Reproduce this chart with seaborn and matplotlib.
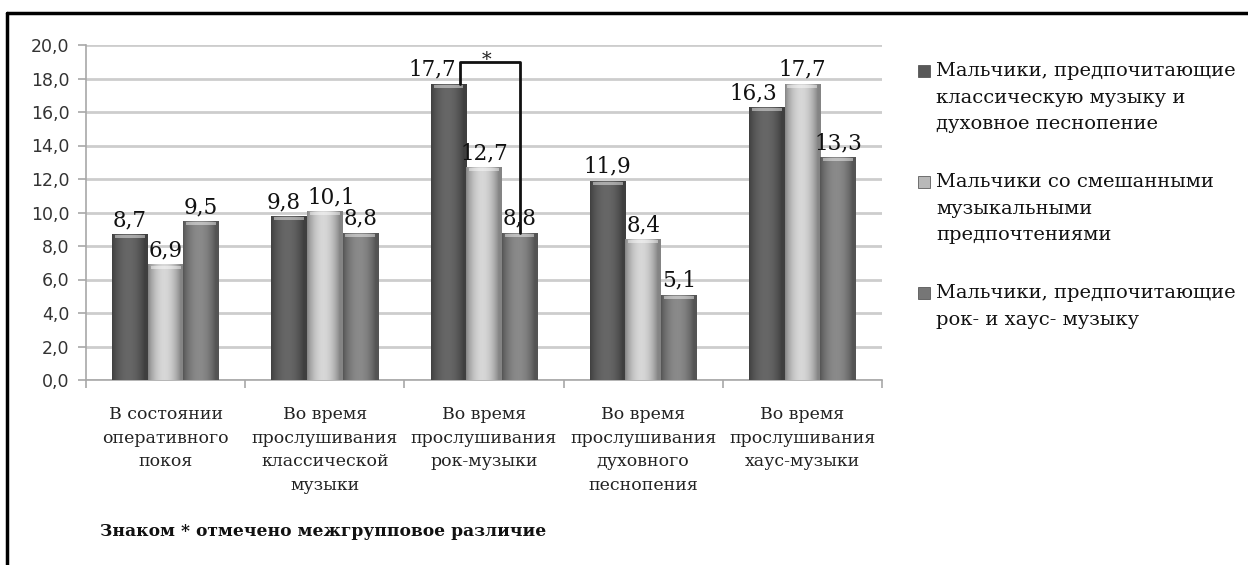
import numpy as np
import pandas as pd
import matplotlib
matplotlib.use("Agg")
import matplotlib.pyplot as plt
import seaborn as sns
from matplotlib.lines import Line2D
from matplotlib.patches import Rectangle
from matplotlib.ticker import FixedLocator, FuncFormatter

categories = [
    "В состоянии\nоперативного\nпокоя",
    "Во время\nпрослушивания\nклассической\nмузыки",
    "Во время\nпрослушивания\nрок-музыки",
    "Во время\nпрослушивания\nдуховного\nпеснопения",
    "Во время\nпрослушивания\nхаус-музыки",
]
series_names = [
    "Мальчики, предпочитающие\nклассическую музыку и\nдуховное песнопение",
    "Мальчики со смешанными\nмузыкальными\nпредпочтениями",
    "Мальчики, предпочитающие\nрок- и хаус- музыку",
]
classic_values = [8.7, 9.8, 17.7, 11.9, 16.3]
mixed_values = [6.9, 10.1, 12.7, 8.4, 17.7]
rock_values = [9.5, 8.8, 8.8, 5.1, 13.3]
footnote = "Знаком * отмечено межгрупповое различие"

colors = ["#585858", "#b8b8b8", "#767676"]

df = pd.DataFrame({
    "cat": categories * 3,
    "group": sum([[s] * 5 for s in series_names], []),
    "value": classic_values + mixed_values + rock_values,
})

sns.set_theme(style="white")
plt.rcParams["font.family"] = ["DejaVu Serif"]

W, H = 1248, 565
fig = plt.figure(figsize=(W / 100, H / 100), dpi=100)
ax = fig.add_axes([86 / W, 1 - 380 / H, (882 - 86) / W, (380 - 45) / H])

sns.barplot(data=df, x="cat", y="value", hue="group", order=categories,
            hue_order=series_names, palette=colors, width=0.67,
            saturation=1, legend=False, ax=ax, zorder=3, edgecolor="none")

ax.set_ylim(0, 20)
ax.set_xlim(-0.5, len(categories) - 0.5)

# cylinder-like shading on bars
prof = np.linspace(0, 1, 64)
shade = 0.72 + 0.45 * np.sin(np.pi * np.clip(prof * 1.1, 0, 1)) ** 0.8
for ci, cont in enumerate(ax.containers):
    base = np.array(matplotlib.colors.to_rgb(colors[ci]))
    for bar in cont:
        x0, w, h = bar.get_x(), bar.get_width(), bar.get_height()
        img = np.clip(base[None, None, :] * shade[None, :, None], 0, 1)
        im = ax.imshow(img, extent=[x0, x0 + w, 0, h], aspect="auto",
                       zorder=4, interpolation="bilinear")
        im.set_clip_path(bar)
        cap = Rectangle((x0 + w * 0.08, h - 0.25), w * 0.84, 0.18,
                        color="white", alpha=0.45, zorder=5, lw=0)
        ax.add_patch(cap)
ax.set_xlim(-0.5, len(categories) - 0.5)
ax.set_ylim(0, 20)

# value labels
label_texts = []
for cont in ax.containers:
    labels = [f"{b.get_height():.1f}".replace(".", ",") for b in cont]
    label_texts.append(ax.bar_label(cont, labels=labels, padding=2, fontsize=15.5,
                                    color="#111111", family="DejaVu Serif", zorder=6))
# nudge a few labels sideways, as in the original, to keep them apart
nudges = {(0, 1): -4, (1, 1): 5, (0, 2): -12, (0, 4): -10}
for (s, c), dx in nudges.items():
    t = label_texts[s][c]
    ox, oy = t.xyann
    t.xyann = (ox + dx, oy)

# grid and axes
ax.yaxis.set_major_locator(FixedLocator(np.arange(0, 21, 2)))
ax.yaxis.set_major_formatter(FuncFormatter(lambda v, p: f"{v:.1f}".replace(".", ",")))
ax.grid(axis="y", color="#cdcdcd", lw=2, zorder=0)
ax.grid(axis="x", visible=False)
for side in ["top", "right"]:
    ax.spines[side].set_visible(False)
for side in ["left", "bottom"]:
    ax.spines[side].set_color("#a8a8a8")
    ax.spines[side].set_linewidth(1.2)
ax.tick_params(axis="y", length=6, color="#a8a8a8", width=1.2, labelsize=12.5,
               labelcolor="#333333", pad=6, left=True)
for t in ax.get_yticklabels():
    t.set_family("DejaVu Sans")
ax.set_xticks(range(len(categories)))
ax.set_xticklabels(categories, fontsize=12.5, linespacing=1.5, color="#222222")
ax.set_xticks(np.arange(-0.5, len(categories), 1), minor=True)
ax.tick_params(axis="x", which="major", length=0, pad=19)
ax.tick_params(axis="x", which="minor", length=6, color="#a8a8a8", width=1.2,
               bottom=True, direction="out")
ax.set_xlabel("")
ax.set_ylabel("")

# significance bracket between group 1 and group 3 in the rock category
b1 = ax.containers[0][2]
b3 = ax.containers[2][2]
xl = b1.get_x() + b1.get_width() * 0.82
xr = b3.get_x() + b3.get_width() * 0.5
ytop = 19.0
ax.plot([xl, xl, xr, xr], [b1.get_height(), ytop, ytop, b3.get_height()],
        color="#111111", lw=2, zorder=7, clip_on=False)
ax.text((xl + xr) / 2 - 0.02, ytop - 0.45, "*", ha="center", va="bottom",
        fontsize=14, color="#222222", zorder=7)

# legend (manual, with top-aligned markers)
ly = [71, 182, 293]
for i, name in enumerate(series_names):
    yc = ly[i]
    sq = Rectangle((918 / W, 1 - (yc + 6) / H), 12 / W, 12 / H,
                   transform=fig.transFigure, facecolor=colors[i],
                   edgecolor="#444444", lw=0.5)
    fig.add_artist(sq)
    fig.text(936 / W, 1 - (yc - 9) / H, name, ha="left", va="top",
             fontsize=14, linespacing=1.62, color="#111111")

fig.text(100 / W, 1 - 531 / H, footnote, ha="left", va="center",
         fontsize=12.3, fontweight="bold", color="#111111")

# frame lines
fig.add_artist(Line2D([6.5 / W, 1], [1 - 12.5 / H, 1 - 12.5 / H],
                      transform=fig.transFigure, color="black", lw=2.5))
fig.add_artist(Line2D([6.5 / W, 6.5 / W], [0, 1 - 12.5 / H],
                      transform=fig.transFigure, color="black", lw=2.5))

fig.savefig("out.png", dpi=100, facecolor="white")
